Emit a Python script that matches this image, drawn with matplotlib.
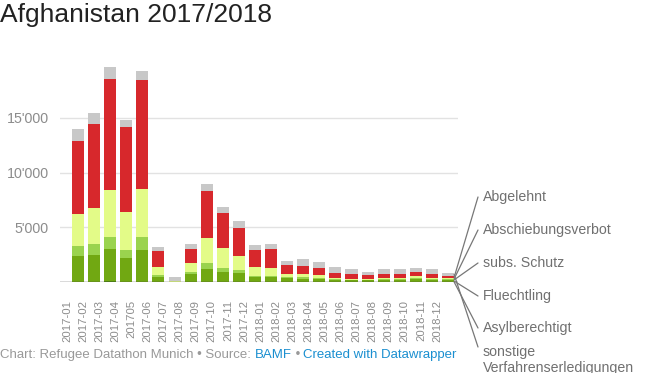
import matplotlib.pyplot as plt
import numpy as np
from matplotlib.ticker import FuncFormatter
from matplotlib.transforms import ScaledTranslation

plt.rcParams['font.family'] = ['Liberation Sans', 'DejaVu Sans']

months = ['2017-01', '2017-02', '2017-03', '2017-04', '201705', '2017-06',
          '2017-07', '2017-08', '2017-09', '2017-10', '2017-11', '2017-12',
          '2018-01', '2018-02', '2018-03', '2018-04', '2018-05', '2018-06',
          '2018-07', '2018-08', '2018-09', '2018-10', '2018-11', '2018-12']

# Werte von unten nach oben gestapelt
asylberechtigt = [40, 40, 50, 30, 40, 10, 0, 10, 20, 10, 10, 10,
                  10, 5, 5, 5, 5, 5, 5, 5, 5, 5, 5, 5]
fluechtling = [2330, 2450, 2990, 2160, 2910, 450, 20, 720, 1190, 880, 780, 470,
               450, 315, 275, 245, 175, 155, 145, 155, 155, 245, 155, 155]
subs_schutz = [910, 1000, 1090, 730, 1180, 180, 10, 210, 520, 420, 300, 70,
               60, 130, 180, 150, 90, 60, 60, 90, 110, 150, 90, 70]
abschiebungsverbot = [2920, 3260, 4260, 3490, 4380, 760, 20, 790, 2310, 1770, 1300, 790,
                      780, 320, 310, 210, 130, 90, 100, 90, 130, 120, 90, 110]
abgelehnt = [6690, 7720, 10120, 7790, 9940, 1430, 30, 1300, 4260, 3250, 2500, 1610,
             1680, 740, 730, 670, 460, 420, 300, 430, 365, 365, 390, 180]
sonstige = [1070, 1000, 1120, 570, 860, 340, 380, 460, 640, 550, 670, 430,
            510, 450, 640, 520, 510, 430, 300, 390, 390, 390, 430, 340]

series = [
    ('Asylberechtigt', asylberechtigt, '#4f8a0b'),
    ('Fluechtling', fluechtling, '#71a812'),
    ('subs. Schutz', subs_schutz, '#9ad34e'),
    ('Abschiebungsverbot', abschiebungsverbot, '#e3fb88'),
    ('Abgelehnt', abgelehnt, '#d7282c'),
    ('sonstige\nVerfahrenserledigungen', sonstige, '#c8c8c8'),
]

# Position der Beschriftungen rechts (Pixel von oben)
label_y = {
    'Abgelehnt': 197,
    'Abschiebungsverbot': 230,
    'subs. Schutz': 263,
    'Fluechtling': 296,
    'Asylberechtigt': 328,
    'sonstige\nVerfahrenserledigungen': 345,
}

W, H = 655, 373
fig = plt.figure(figsize=(W / 100, H / 100), dpi=100)
ax = fig.add_axes([60 / W, 91 / H, 398 / W, 219 / H])

x = np.arange(len(months))
bottom = np.zeros(len(months))
mids = {}
for name, vals, col in series:
    v = np.array(vals, dtype=float)
    ax.bar(x, v, bottom=bottom, width=0.75, color=col, edgecolor='none', zorder=2)
    mids[name] = bottom[-1] + v[-1] / 2
    bottom = bottom + v

ax.set_xlim(-1.12, 23.62)
ax.set_ylim(0, 20000)
ax.set_yticks([5000, 10000, 15000])
ax.yaxis.set_major_formatter(FuncFormatter(lambda v, p: f"{int(v):,}".replace(',', "'")))
ax.grid(axis='y', color='#e2e2e2', lw=1, zorder=0)
ax.axhline(0, color='#444444', lw=1, zorder=3)
for s in ax.spines.values():
    s.set_visible(False)
ax.tick_params(axis='y', length=0, pad=8, labelsize=10.3, labelcolor='#8c8c8c')
ax.tick_params(axis='x', length=0, pad=13, labelsize=8.2, labelcolor='#8c8c8c')
ax.set_xticks(x)
ax.set_xticklabels(months, rotation=90, va='top', ha='center')
off = ScaledTranslation(-0.11, 0, fig.dpi_scale_trans)
for lab in ax.get_xticklabels():
    lab.set_transform(lab.get_transform() + off)

# Beschriftungen mit Linien zum letzten Balken
for name, vals, col in series:
    ty = 1 - label_y[name] / H
    if '\n' in name:
        fig.text(483 / W, ty, name, ha='left', va='top', fontsize=10.2,
                 color='#707070', linespacing=1.15)
        ty_line = 1 - 347 / H
    else:
        fig.text(483 / W, ty, name, ha='left', va='center', fontsize=10.2,
                 color='#707070')
        ty_line = ty
    ax.annotate('', xy=(23.38, mids[name]), xycoords='data',
                xytext=(478 / W, ty_line), textcoords='figure fraction',
                arrowprops=dict(arrowstyle='-', color='#777777', lw=0.9,
                                shrinkA=0, shrinkB=0),
                annotation_clip=False)

fig.text(0, 1 - 15 / H, 'Afghanistan 2017/2018', ha='left', va='center',
         fontsize=19, color='#222222')

# Fußzeile
parts = [('Chart: Refugee Datathon Munich • Source: ', '#999999'),
         ('BAMF', '#1a8fd0'),
         (' • ', '#999999'),
         ('Created with Datawrapper', '#1a8fd0')]
prev = fig.text(0, 1 - 355 / H, parts[0][0], ha='left', va='center',
                fontsize=9.5, color=parts[0][1])
for txt, col in parts[1:]:
    prev = ax.annotate(txt, xy=(1, 0.5), xycoords=prev, ha='left', va='center',
                       fontsize=9.5, color=col, annotation_clip=False)

fig.savefig('out.png', dpi=100)
